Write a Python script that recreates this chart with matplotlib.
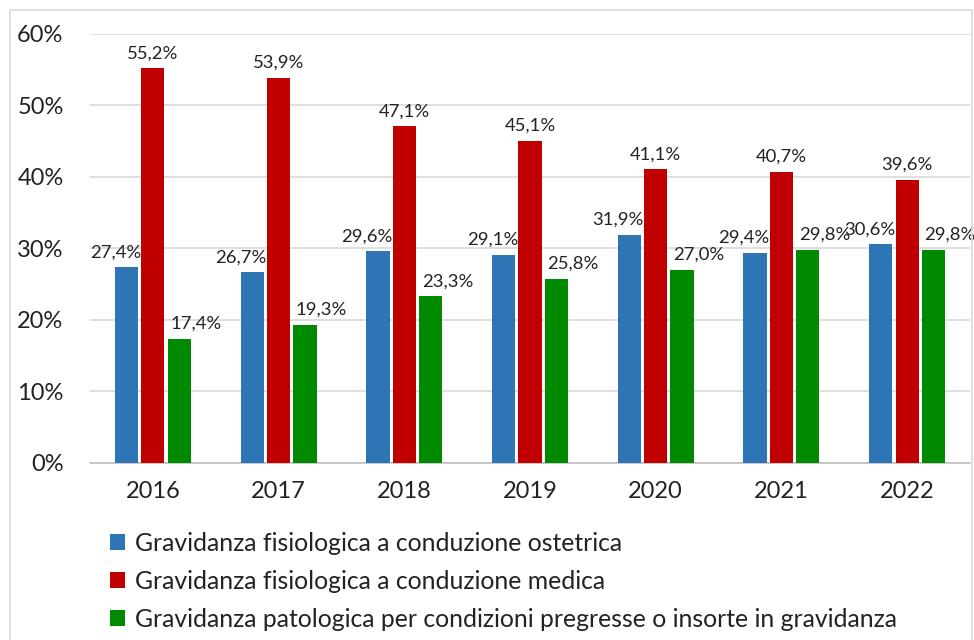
import matplotlib
matplotlib.use("Agg")
import matplotlib.pyplot as plt
import numpy as np
from matplotlib.patches import Rectangle, Patch

plt.rcParams['font.family'] = ['Lato', 'DejaVu Sans']

years = ["2016", "2017", "2018", "2019", "2020", "2021", "2022"]
ostetrica = [27.4, 26.7, 29.6, 29.1, 31.9, 29.4, 30.6]
medica = [55.2, 53.9, 47.1, 45.1, 41.1, 40.7, 39.6]
patologica = [17.4, 19.3, 23.3, 25.8, 27.0, 29.8, 29.8]
series_names = [
    "Gravidanza fisiologica a conduzione ostetrica",
    "Gravidanza fisiologica a conduzione medica",
    "Gravidanza patologica per condizioni pregresse o insorte in gravidanza",
]
colors = ["#2E75B6", "#C00000", "#008A00"]

fig = plt.figure(figsize=(9.74, 6.40), dpi=100)
ax = fig.add_axes([0.0924, 0.2766, 0.9035, 0.6703])

x = np.arange(len(years))
width = 0.185
offset = 0.21
label_shift = [-8, 0, 12]  # horizontal label shifts in points

for k, (vals, col) in enumerate(zip([ostetrica, medica, patologica], colors)):
    pos = x + (k - 1) * offset
    ax.bar(pos, vals, width=width, color=col, zorder=3)
    for p, v in zip(pos, vals):
        ax.annotate(f"{v:.1f}%".replace(".", ","), (p, v),
                    xytext=(label_shift[k], 5), textcoords="offset points",
                    ha="center", va="bottom", fontsize=13.3, color="#222222",
                    zorder=4)

ax.set_xlim(-0.5, len(years) - 0.5)
ax.set_ylim(0, 60)
ax.set_yticks(np.arange(0, 61, 10))
ax.set_yticklabels([f"{t}%" for t in range(0, 61, 10)], fontsize=17, color="#222222")
ax.set_xticks(x)
ax.set_xticklabels(years, fontsize=17, color="#222222")
ax.tick_params(axis="both", length=0)
ax.tick_params(axis="y", pad=19)
ax.tick_params(axis="x", pad=13)
ax.grid(axis="y", color="#D9D9D9", linewidth=1.2, zorder=0)
for s in ["top", "right", "left"]:
    ax.spines[s].set_visible(False)
ax.spines["bottom"].set_color("#BFBFBF")
ax.spines["bottom"].set_linewidth(1.2)

# chart-area frame
fig.patches.append(Rectangle((10 / 974, -0.05), 962 / 974, 1.05 - 10 / 640,
                             transform=fig.transFigure, fill=False,
                             edgecolor="#D9D9D9", linewidth=1.2))

handles = [Patch(facecolor=c, edgecolor="none") for c in colors]
fig.legend(handles, series_names, loc="upper left",
           bbox_to_anchor=(110 / 974, 1 - 532 / 640), frameon=False,
           fontsize=17.8, handlelength=0.6, handleheight=0.6,
           handletextpad=0.4, labelspacing=0.6, borderaxespad=0,
           borderpad=0, labelcolor="#222222")

fig.savefig("out.png", dpi=100)
